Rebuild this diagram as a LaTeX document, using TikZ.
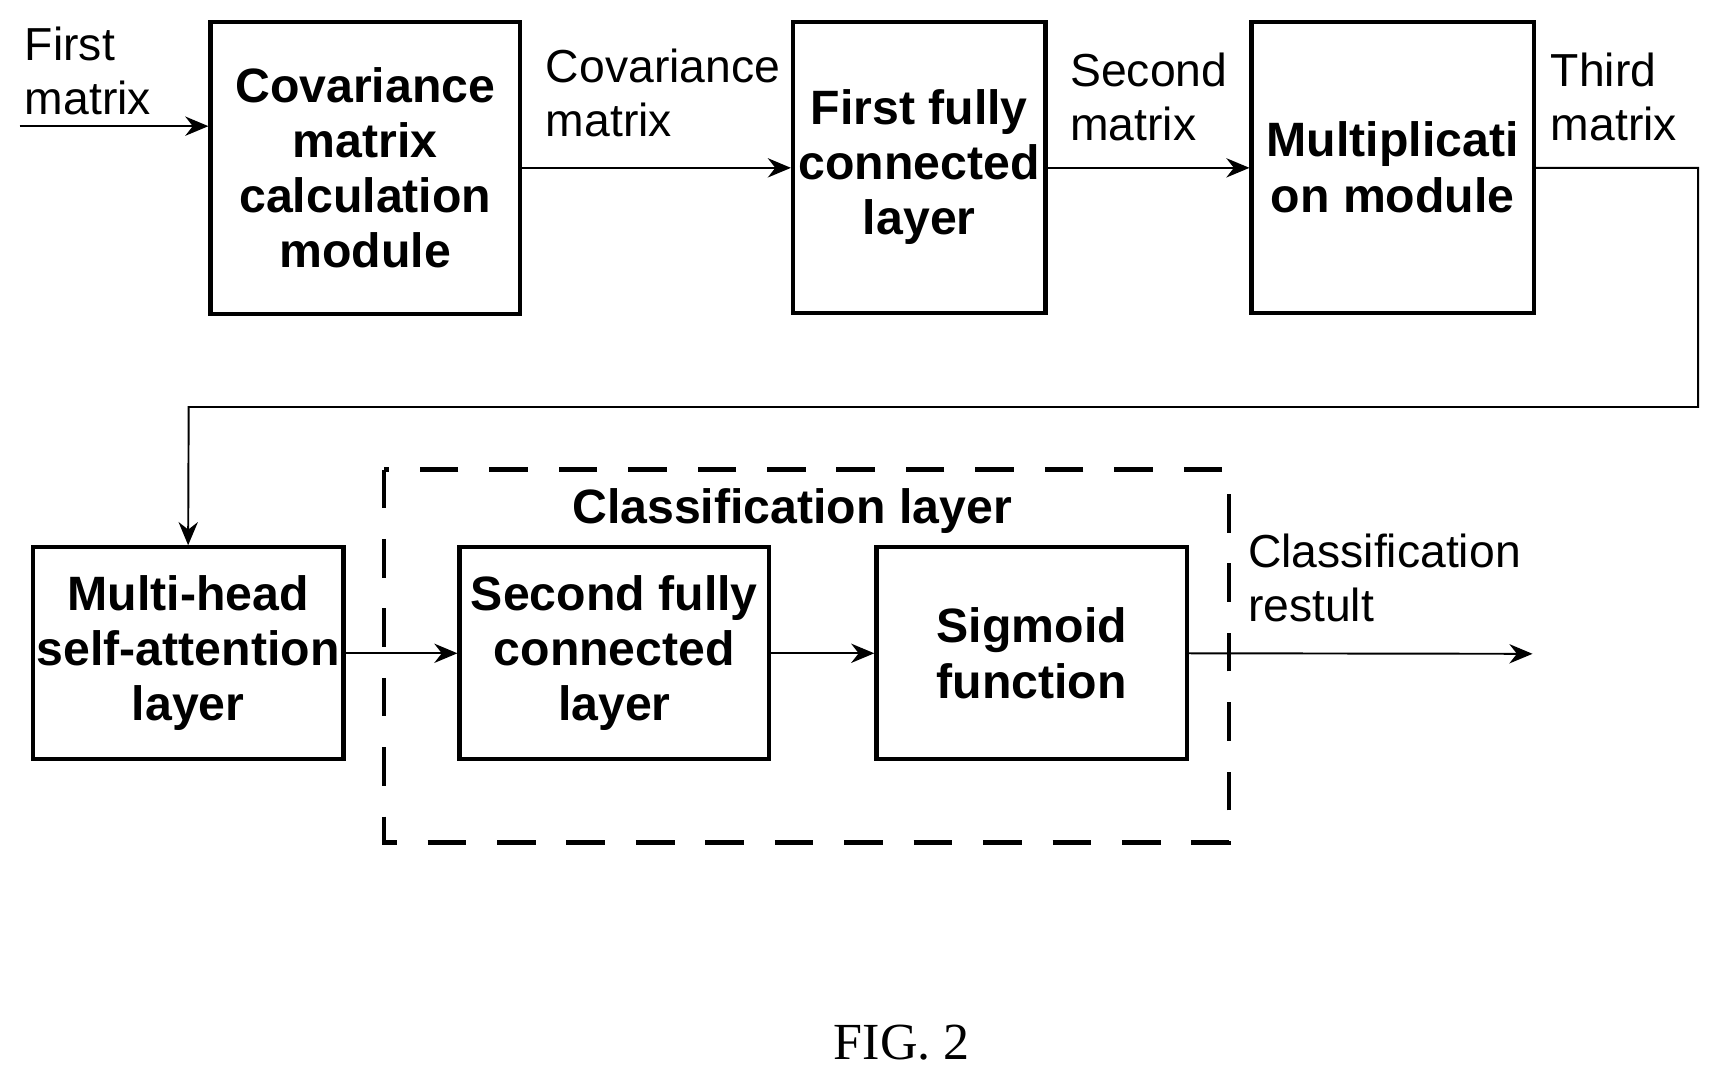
\documentclass[tikz,border=0pt]{standalone}
\usepackage{fontspec}
\setmainfont{Liberation Sans}
\newfontfamily\serif{Liberation Serif}
\usetikzlibrary{arrows.meta}
\begin{document}
\begin{tikzpicture}[x=0.01cm,y=-0.01cm,
  box/.style={draw,line width=1.1pt,align=center,font=\bfseries\fontsize{12.5}{14.3}\selectfont,inner sep=0pt},
  lab/.style={anchor=north west,align=left,font=\fontsize{12}{14}\selectfont,inner sep=0pt},
  con/.style={line width=0.5pt,-{Stealth[length=6pt,width=5pt]}}]
\useasboundingbox (0,0) rectangle (1567,984);
\node[box,minimum width=282\pgflinewidth,minimum width=2.82cm,minimum height=2.66cm] (b1) at (333,153) {Covariance\\matrix\\calculation\\module};
\node[box,minimum width=2.30cm,minimum height=2.65cm] (b2) at (838,152.5) {First fully\\connected\\layer};
\node[box,minimum width=2.57cm,minimum height=2.65cm] (b3) at (1269.5,152.5) {Multiplicati\\on module};
\node[box,minimum width=2.83cm,minimum height=1.93cm] (b4) at (171.5,595.5) {Multi-head\\self-attention\\layer};
\node[box,minimum width=2.82cm,minimum height=1.93cm] (b5) at (560,595.5) {Second fully\\connected\\layer};
\node[box,minimum width=2.83cm,minimum height=1.93cm] (b6) at (940.5,595.5) {Sigmoid\\function};
\draw[line width=1.1pt,dash pattern=on 10pt off 8pt] (350,428) rectangle (1120,768);
\node[font=\bfseries\fontsize{12.5}{14.3}\selectfont] (cl) at (722,466) {Classification layer};
\coordinate (in) at (18,115);
\coordinate (out) at (1397,596);
\coordinate (c1) at (1548,153);
\coordinate (c2) at (1548,371);
\coordinate (c3) at (172,371);
\draw[con] (in) -- (in -| b1.west);
\draw[con] (b1.east |- 0,153) -- (b2.west |- 0,153);
\draw[con] (b2.east |- 0,153) -- (b3.west |- 0,153);
\draw[con] (b3.east |- c1) -- (c1) -- (c2) -- (c3) -- (b4.north);
\draw[con] (b4.east) -- (b5.west);
\draw[con] (b5.east) -- (b6.west);
\draw[con] (b6.east) -- (out);
\node[lab] (l1) at (22,24) {First\\matrix};
\node[lab] (l2) at (497,44) {Covariance\\matrix};
\node[lab] (l3) at (975,48) {Second\\matrix};
\node[lab] (l4) at (1413,48) {Third\\matrix};
\node[lab] (l5) at (1137,486) {Classification\\restult};
\node[font=\serif\fontsize{13.5}{16}\selectfont] (fig) at (822,950) {FIG. 2};
\end{tikzpicture}
\end{document}
